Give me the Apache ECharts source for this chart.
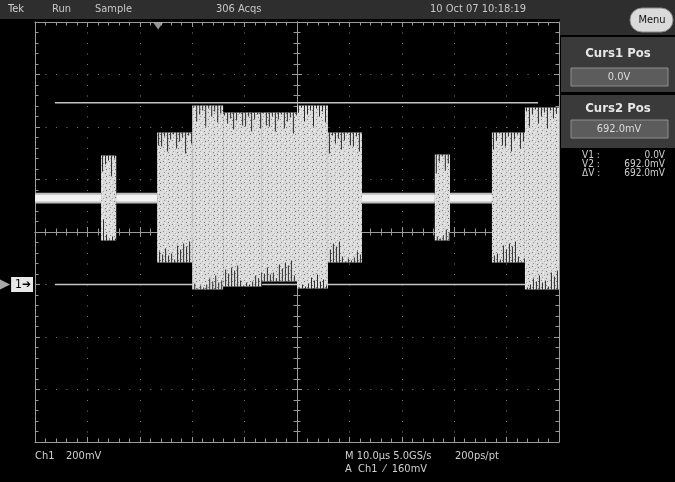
<!DOCTYPE html>
<html><head><meta charset="utf-8">
<script src="https://cdn.jsdelivr.net/npm/echarts/dist/echarts.min.js"></script>
<style>html,body{margin:0;padding:0;background:#000;}#c{width:675px;height:482px;}</style>
</head><body><div id="c"></div>
<script>
// Time in µs relative to screen centre (10 µs/div), voltage in mV relative to Ch1 ground (200 mV/div)
const segStart = [-50, -37.4, -34.5, -26.7, -20.0, -14.1, -6.7, 0.0, 5.9, 12.4, 26.3, 29.2, 37.2, 43.5];
const segEnd   = [-37.4, -34.5, -26.7, -20.0, -14.1, -6.7, 0.0, 5.9, 12.4, 26.3, 29.2, 37.2, 43.5, 50];
const segLow   = [309, 168, 309, 84, -19, -8, 11, -15, 84, 309, 168, 309, 84, -19];
const segHigh  = [350, 491, 350, 579, 682, 655, 655, 682, 579, 350, 495, 350, 579, 674];
const segKind  = ['idle','burst','idle','burst','burst','burst','burst','burst','burst','idle','burst','idle','burst','burst'];
const cursorValues = [0, 692];          // Curs1, Curs2 (mV)
const cursorSpan = [-46.2, 46.0];       // µs
const triggerTime = -26.5;              // µs
const timeTicks = [-50, 50, 10];        // min, max, step (µs)
const voltTicks = [-600, 1000, 200];    // min, max, step (mV)

const FONT = "'Liberation Sans Narrow','DejaVu Sans Condensed','Liberation Sans',sans-serif";

// speckle texture for the burst fill
const pc = document.createElement('canvas'); pc.width = 9; pc.height = 7;
const g = pc.getContext('2d');
g.fillStyle = '#dadada'; g.fillRect(0, 0, 9, 7);
const specks = [[1,0,'#858585'],[4,2,'#a8a8a8'],[7,1,'#707070'],[2,4,'#9e9e9e'],[6,5,'#7e7e7e'],[5,3,'#f2f2f2'],[3,6,'#f4f4f4'],[3,1,'#eeeeee'],[0,3,'#ececec'],[8,5,'#f0f0f0']];
specks.forEach(s => { g.fillStyle = s[2]; g.fillRect(s[0], s[1], 1, 1); });
const comb = [14, 4, 19, 7, 2, 16, 9, 5, 21, 3, 11, 6, 17, 8, 1, 13];

function renderTrace(params, api) {
  const t0 = api.value(0), t1 = api.value(1), lo = api.value(2), hi = api.value(3), kind = api.value(4);
  const p0 = api.coord([t0, hi]), p1 = api.coord([t1, lo]);
  const x = p0[0], y = p0[1], w = p1[0] - p0[0], h = p1[1] - p0[1];
  if (kind === 0) {
    return {type: 'group', children: [
      {type: 'rect', shape: {x: x, y: y, width: w, height: h}, style: {fill: '#bdbdbd'}},
      {type: 'rect', shape: {x: x, y: y + 2, width: w, height: h - 4}, style: {fill: '#f2f2f2'}}
    ]};
  }
  const children = [{type: 'rect', shape: {x: x, y: y, width: w, height: h}, style: {fill: {image: pc, repeat: 'repeat'}}}];
  let i = 0;
  for (let px = x + 1; px < x + w - 1; px += 3, i++) {
    const L = comb[(i + params.dataIndex * 5) % comb.length];
    children.push({type: 'rect', shape: {x: px, y: y, width: 1, height: L}, style: {fill: 'rgba(0,0,0,0.8)'}});
    const L2 = comb[(i * 3 + 7 + params.dataIndex) % comb.length];
    children.push({type: 'rect', shape: {x: px + 1, y: y + h - L2, width: 1, height: L2}, style: {fill: 'rgba(0,0,0,0.8)'}});
  }
  return {type: 'group', children: children};
}

const edgeLine = {show: true, onZero: false, lineStyle: {color: '#9a9a9a', width: 1}};
const tickIn = {show: true, inside: true, length: 5, lineStyle: {color: '#9a9a9a'}};
const minorIn = {show: true, splitNumber: 5, length: 3.5, lineStyle: {color: '#9a9a9a'}};
const noLabel = {show: false};

const chart = echarts.init(document.getElementById('c'), null, {renderer: 'canvas'});
const option = {
  backgroundColor: '#000',
  animation: false,
  grid: {left: 35, top: 22, width: 524, height: 420, containLabel: false, outerBoundsMode: 'none'},
  xAxis: [
    {type: 'value', min: timeTicks[0], max: timeTicks[1], interval: timeTicks[2], position: 'bottom',
     axisLine: edgeLine, axisTick: tickIn, minorTick: minorIn, axisLabel: noLabel,
     splitLine: {show: true, lineStyle: {color: '#7a7a7a', width: 1, type: [1, 9.5]}}},
    {type: 'value', min: timeTicks[0], max: timeTicks[1], interval: timeTicks[2], position: 'top',
     axisLine: edgeLine, axisTick: tickIn, minorTick: minorIn, axisLabel: noLabel, splitLine: {show: false}},
    {type: 'value', min: timeTicks[0], max: timeTicks[1], interval: timeTicks[2], position: 'bottom',
     axisLine: {show: true, onZero: true, onZeroAxisIndex: 2, lineStyle: {color: '#9a9a9a'}},
     axisTick: tickIn, minorTick: minorIn, axisLabel: noLabel, splitLine: {show: false}},
    {type: 'value', min: timeTicks[0], max: timeTicks[1], interval: timeTicks[2], position: 'bottom',
     axisLine: {show: true, onZero: true, onZeroAxisIndex: 2, lineStyle: {color: '#9a9a9a'}},
     axisTick: {show: true, inside: false, length: 5, lineStyle: {color: '#9a9a9a'}}, minorTick: minorIn, axisLabel: noLabel, splitLine: {show: false}}
  ],
  yAxis: [
    {type: 'value', min: voltTicks[0], max: voltTicks[1], interval: voltTicks[2], position: 'left',
     axisLine: edgeLine, axisTick: tickIn, minorTick: minorIn,
     axisLabel: {show: true, margin: 2, formatter: v => v === 0 ? '{t|▶}{b|1➔}' : '',
       rich: {t: {color: '#a8a8a8', fontSize: 17, padding: [0, 1, 0, 0]},
              b: {backgroundColor: '#e8e8e8', color: '#000', fontSize: 12, fontFamily: FONT, padding: [2, 2, 1, 4]}}},
     splitLine: {show: true, lineStyle: {color: '#7a7a7a', width: 1, type: [1, 9.48]}}},
    {type: 'value', min: voltTicks[0], max: voltTicks[1], interval: voltTicks[2], position: 'right',
     axisLine: edgeLine, axisTick: tickIn, minorTick: minorIn, axisLabel: noLabel, splitLine: {show: false}},
    {type: 'value', min: -4, max: 4, interval: 1, show: false},
    {type: 'value', min: voltTicks[0], max: voltTicks[1], interval: voltTicks[2], position: 'left',
     axisLine: {show: true, onZero: true, onZeroAxisIndex: 0, lineStyle: {color: '#9a9a9a'}},
     axisTick: tickIn, minorTick: minorIn, axisLabel: noLabel, splitLine: {show: false}},
    {type: 'value', min: voltTicks[0], max: voltTicks[1], interval: voltTicks[2], position: 'left',
     axisLine: {show: true, onZero: true, onZeroAxisIndex: 0, lineStyle: {color: '#9a9a9a'}},
     axisTick: {show: true, inside: false, length: 5, lineStyle: {color: '#9a9a9a'}}, minorTick: minorIn, axisLabel: noLabel, splitLine: {show: false}}
  ],
  series: [
    ...cursorValues.map(v => ({type: 'line', xAxisIndex: 0, yAxisIndex: 0, z: 1, silent: true, symbol: 'none',
      lineStyle: {color: '#c4c4c4', width: 1.5}, data: [[cursorSpan[0], v], [cursorSpan[1], v]]})),
    {type: 'custom', xAxisIndex: 0, yAxisIndex: 0, z: 3, silent: true, clip: true, renderItem: renderTrace,
     data: segStart.map((s, i) => [s, segEnd[i], segLow[i], segHigh[i], segKind[i] === 'idle' ? 0 : 1])},
    {type: 'scatter', xAxisIndex: 0, yAxisIndex: 0, z: 4, silent: true, clip: false, symbol: 'triangle',
     symbolRotate: 180, symbolSize: [10, 7], symbolOffset: [0, 4], itemStyle: {color: '#b8b8b8'},
     data: [[triggerTime, voltTicks[1]]]}
  ],
  graphic: [
    {type: 'rect', z: -1, shape: {x: 0, y: 0, width: 675, height: 19}, style: {fill: '#2e2e2e'}},
    {type: 'rect', z: -1, shape: {x: 560, y: 0, width: 115, height: 35}, style: {fill: '#2e2e2e'}},
    {type: 'text', style: {x: 8, y: 9, text: 'Tek', fill: '#d0d0d0', font: '11px ' + FONT, verticalAlign: 'middle'}},
    {type: 'text', style: {x: 52, y: 9, text: 'Run', fill: '#c8c8c8', font: '11px ' + FONT, verticalAlign: 'middle'}},
    {type: 'text', style: {x: 95, y: 9, text: 'Sample', fill: '#c8c8c8', font: '11px ' + FONT, verticalAlign: 'middle'}},
    {type: 'text', style: {x: 216, y: 9, text: '306 Acqs', fill: '#c8c8c8', font: '11px ' + FONT, verticalAlign: 'middle'}},
    {type: 'text', style: {x: 430, y: 9, text: '10 Oct 07 10:18:19', fill: '#c8c8c8', font: '11px ' + FONT, verticalAlign: 'middle'}},
    {type: 'rect', shape: {x: 630, y: 8, width: 43, height: 24, r: 12}, style: {fill: '#dadada', stroke: '#8a8a8a', lineWidth: 1}},
    {type: 'text', style: {x: 652, y: 20, text: 'Menu', fill: '#111', font: '11px ' + FONT, align: 'center', verticalAlign: 'middle'}},
    {type: 'rect', shape: {x: 561, y: 37, width: 114, height: 55}, style: {fill: '#3a3a3a'}},
    {type: 'text', style: {x: 618, y: 54, text: 'Curs1 Pos', fill: '#e6e6e6', font: 'bold 13px ' + FONT, align: 'center', verticalAlign: 'middle'}},
    {type: 'rect', shape: {x: 571, y: 68, width: 97, height: 18}, style: {fill: '#5c5c5c', stroke: '#8e8e8e', lineWidth: 1}},
    {type: 'text', style: {x: 619, y: 77, text: '0.0V', fill: '#dcdcdc', font: '11px ' + FONT, align: 'center', verticalAlign: 'middle'}},
    {type: 'rect', shape: {x: 561, y: 95, width: 114, height: 53}, style: {fill: '#3a3a3a'}},
    {type: 'text', style: {x: 618, y: 109, text: 'Curs2 Pos', fill: '#e6e6e6', font: 'bold 13px ' + FONT, align: 'center', verticalAlign: 'middle'}},
    {type: 'rect', shape: {x: 571, y: 120, width: 97, height: 18}, style: {fill: '#5c5c5c', stroke: '#8e8e8e', lineWidth: 1}},
    {type: 'text', style: {x: 619, y: 129, text: '692.0mV', fill: '#dcdcdc', font: '11px ' + FONT, align: 'center', verticalAlign: 'middle'}},
    {type: 'text', style: {x: 582, y: 155, text: 'V1 :', fill: '#cfcfcf', font: '10px ' + FONT, verticalAlign: 'middle'}},
    {type: 'text', style: {x: 582, y: 164, text: 'V2 :', fill: '#cfcfcf', font: '10px ' + FONT, verticalAlign: 'middle'}},
    {type: 'text', style: {x: 582, y: 173, text: 'ΔV :', fill: '#cfcfcf', font: '10px ' + FONT, verticalAlign: 'middle'}},
    {type: 'text', style: {x: 665, y: 155, text: '0.0V', fill: '#cfcfcf', font: '10px ' + FONT, align: 'right', verticalAlign: 'middle'}},
    {type: 'text', style: {x: 665, y: 164, text: '692.0mV', fill: '#cfcfcf', font: '10px ' + FONT, align: 'right', verticalAlign: 'middle'}},
    {type: 'text', style: {x: 665, y: 173, text: '692.0mV', fill: '#cfcfcf', font: '10px ' + FONT, align: 'right', verticalAlign: 'middle'}},
    {type: 'text', style: {x: 35, y: 456, text: 'Ch1', fill: '#d0d0d0', font: '11px ' + FONT, verticalAlign: 'middle'}},
    {type: 'text', style: {x: 66, y: 456, text: '200mV', fill: '#d0d0d0', font: '11px ' + FONT, verticalAlign: 'middle'}},
    {type: 'text', style: {x: 345, y: 456, text: 'M 10.0µs 5.0GS/s', fill: '#d0d0d0', font: '11px ' + FONT, verticalAlign: 'middle'}},
    {type: 'text', style: {x: 455, y: 456, text: '200ps/pt', fill: '#d0d0d0', font: '11px ' + FONT, verticalAlign: 'middle'}},
    {type: 'text', style: {x: 345, y: 469, text: 'A  Ch1  ⁄  160mV', fill: '#d0d0d0', font: '11px ' + FONT, verticalAlign: 'middle'}}
  ]
};
chart.setOption(option);
</script></body></html>
